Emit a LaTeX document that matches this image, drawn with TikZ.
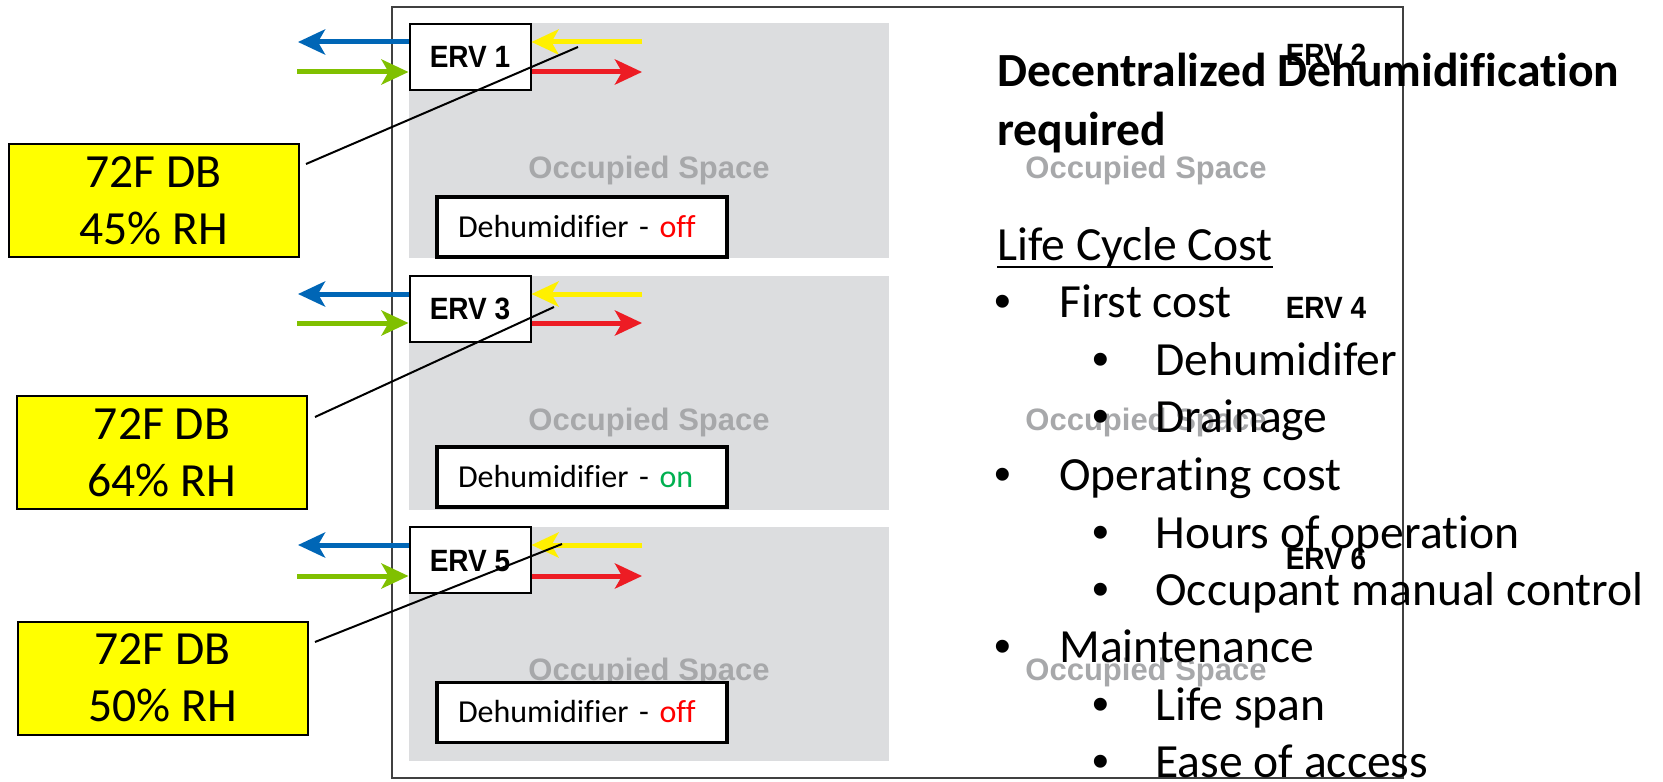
\documentclass[tikz,border=0pt]{standalone}
\usepackage{fontspec}
\setmainfont{Carlito}[Ligatures=NoCommon]
\newfontfamily\arialfont{Liberation Sans}
\newfontfamily\ervfont{Liberation Sans}[FakeStretch=0.91]
\usetikzlibrary{arrows.meta}

\definecolor{panelgray}{RGB}{220,221,223}
\definecolor{spacegray}{RGB}{167,168,170}
\definecolor{exhaustblue}{RGB}{0,102,182}
\definecolor{outdoorgreen}{RGB}{128,192,0}
\definecolor{returnyellow}{RGB}{255,240,0}
\definecolor{supplyred}{RGB}{237,28,36}
\definecolor{offred}{RGB}{255,0,0}
\definecolor{ongreen}{RGB}{0,176,80}
\definecolor{labelyellow}{RGB}{255,255,0}

\begin{document}
\begin{tikzpicture}[x=0.5pt,y=-0.5pt,
  panel/.style={fill=panelgray, draw=none},
  spacelabel/.style={anchor=base, text=spacegray, inner sep=0pt,
    font=\arialfont\bfseries\fontsize{15.5}{18}\selectfont},
  ervlabel/.style={inner sep=0pt, text height=11pt, text depth=0pt,
    font=\ervfont\bfseries\fontsize{15.4}{18}\selectfont},
  ervbox/.style={ervlabel, draw, line width=1pt, fill=white,
    minimum width=60.5pt, minimum height=33pt},
  dhbox/.style={draw, line width=1.6pt, fill=white, minimum width=145pt,
    minimum height=30pt, text width=124pt, align=left, inner xsep=10.5pt,
    inner ysep=0pt, text height=10.3pt, text depth=0pt,
    font=\fontsize{16}{19}\selectfont},
  ybox/.style={draw, line width=1pt, fill=labelyellow, minimum width=145pt,
    minimum height=56.5pt, align=center, inner sep=0pt,
    font=\fontsize{23.8}{28.5}\selectfont},
  airflow/.style={line width=2.5pt,
    -{Stealth[length=13.5pt, width=12.5pt, inset=3.5pt]}},
  leader/.style={line width=1pt},
  frame/.style={draw=black!75, line width=0.75pt},
  body/.style={anchor=base west, inner sep=0pt,
    font=\fontsize{23.8}{28.5}\selectfont},
  heading/.style={anchor=base west, inner sep=0pt,
    font=\bfseries\fontsize{23.8}{28.5}\selectfont},
  dot/.style={anchor=base, inner sep=0pt,
    font=\arialfont\fontsize{23.8}{28.5}\selectfont},
]
\useasboundingbox (0,0) rectangle (1663,781);

% outer frame
\draw[frame] (392,7) rectangle (1403,778);

% occupied spaces
\fill[panel] (409,23) rectangle (889,258);
\fill[panel] (409,276) rectangle (889,510);
\fill[panel] (409,527) rectangle (889,761);

\node[spacelabel] (occ1) at (649,178) {Occupied Space};
\node[spacelabel] (occ3) at (649,430) {Occupied Space};
\node[spacelabel] (occ5) at (649,680) {Occupied Space};

% dehumidifiers
\node[dhbox] (dh1) at (582,227) {Dehumidifier - \textcolor{offred}{off}};
\node[dhbox] (dh3) at (582,477) {Dehumidifier - \textcolor{ongreen}{on}};
\node[dhbox] (dh5) at (582,712.5) {Dehumidifier - \textcolor{offred}{off}};

% ERV units
\node[ervbox] (erv1) at (470,57) {ERV 1};
\node[ervbox] (erv3) at (470,308.5) {ERV 3};
\node[ervbox] (erv5) at (470,560) {ERV 5};

% air streams: exhaust, outdoor air, return, supply
\coordinate (ex1) at (298,42);  \coordinate (oa1) at (297,72);
\coordinate (ra1) at (642,42);  \coordinate (sa1) at (642,72);
\coordinate (ex3) at (298,294); \coordinate (oa3) at (297,323);
\coordinate (ra3) at (642,294); \coordinate (sa3) at (642,323);
\coordinate (ex5) at (298,545); \coordinate (oa5) at (297,576);
\coordinate (ra5) at (642,545); \coordinate (sa5) at (642,576);

\foreach \u in {1,3,5}{
  \draw[airflow, exhaustblue] (erv\u.west |- ex\u) -- (ex\u);
  \draw[airflow, outdoorgreen] (oa\u) -- (erv\u.west |- oa\u);
  \draw[airflow, returnyellow] (ra\u) -- (erv\u.east |- ra\u);
  \draw[airflow, supplyred] (erv\u.east |- sa\u) -- (sa\u);
}

% space condition callouts
\node[ybox] (cond1) at (153.5,200.5) {72F DB\\45\% RH};
\node[ybox] (cond3) at (162,452.5) {72F DB\\64\% RH};
\node[ybox] (cond5) at (162.5,678) {72F DB\\50\% RH};

\coordinate (c1a) at (306,164); \coordinate (c1b) at (578,47);
\coordinate (c3a) at (315,417); \coordinate (c3b) at (554,307);
\coordinate (c5a) at (315,642); \coordinate (c5b) at (562,544);
\draw[leader] (c1a) -- (c1b);
\draw[leader] (c3a) -- (c3b);
\draw[leader] (c5a) -- (c5b);

% second column of spaces
\node[spacelabel] (occ2) at (1146,178) {Occupied Space};
\node[spacelabel] (occ4) at (1146,430) {Occupied Space};
\node[spacelabel] (occ6) at (1146,680) {Occupied Space};
\node[ervlabel] (erv2) at (1326,55) {ERV 2};
\node[ervlabel] (erv4) at (1326,307) {ERV 4};
\node[ervlabel] (erv6) at (1326,558) {ERV 6};

% notes
\node[heading] (title1) at (997,87) {Decentralized Dehumidification};
\node[heading] (title2) at (997,145) {required};
\node[body] (lcc) at (997,260) {Life Cycle Cost};
\draw[line width=1.3pt] ([yshift=-3.5pt]lcc.base west) -- ([yshift=-3.5pt]lcc.base east);

\node[dot] (d1) at (1003,317) {•};  \node[body] (t1) at (1059,317) {First cost};
\node[dot] (d2) at (1101,375) {•};  \node[body] (t2) at (1155,375) {Dehumidifer};
\node[dot] (d3) at (1101,432) {•};  \node[body] (t3) at (1155,432) {Drainage};
\node[dot] (d4) at (1003,490) {•};  \node[body] (t4) at (1059,490) {Operating cost};
\node[dot] (d5) at (1101,548) {•};  \node[body] (t5) at (1155,548) {Hours of operation};
\node[dot] (d6) at (1101,605) {•};  \node[body] (t6) at (1155,605) {Occupant manual control};
\node[dot] (d7) at (1003,662) {•};  \node[body] (t7) at (1059,662) {Maintenance};
\node[dot] (d8) at (1101,720) {•};  \node[body] (t8) at (1155,720) {Life span};
\node[dot] (d9) at (1101,777) {•};  \node[body] (t9) at (1155,777) {Ease of access};
\end{tikzpicture}
\end{document}
